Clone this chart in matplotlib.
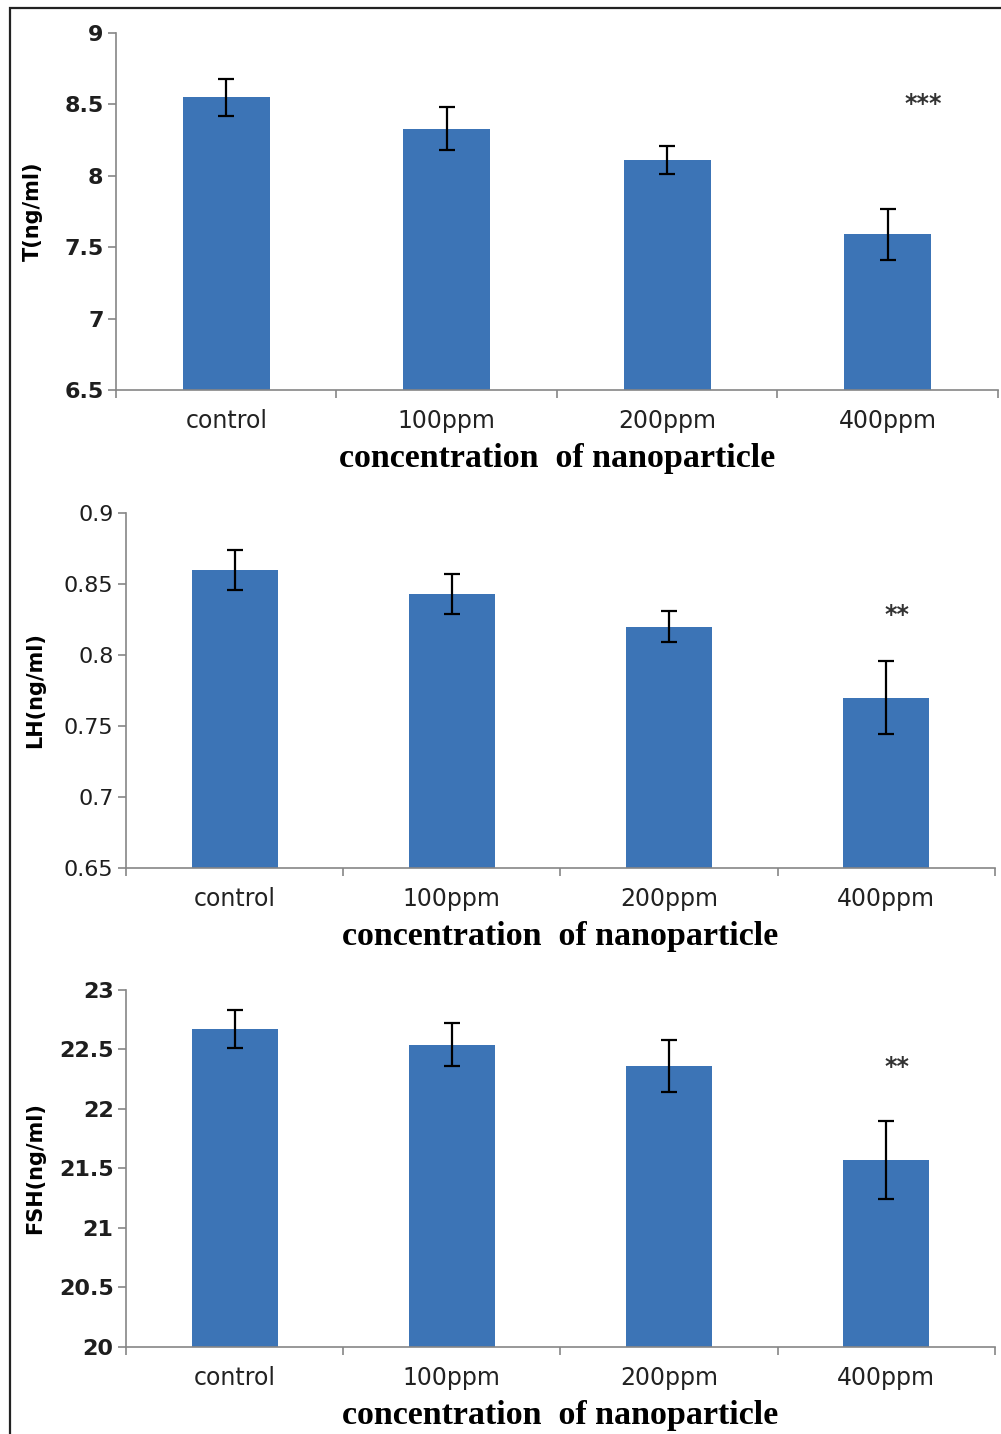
import matplotlib.pyplot as plt
from matplotlib.patches import Rectangle

# data
groups = ['control', '100ppm', '200ppm', '400ppm']

t_mean = [8.55, 8.33, 8.11, 7.59]
t_err = [0.13, 0.15, 0.10, 0.18]

lh_mean = [0.860, 0.843, 0.820, 0.770]
lh_err = [0.014, 0.014, 0.011, 0.026]

fsh_mean = [22.67, 22.54, 22.36, 21.57]
fsh_err = [0.16, 0.18, 0.22, 0.33]

ylabels = ['T(ng/ml)', 'LH(ng/ml)', 'FSH(ng/ml)']
ylims = [(6.5, 9), (0.65, 0.9), (20, 23)]
yticks = [[6.5, 7, 7.5, 8, 8.5, 9],
          [0.65, 0.7, 0.75, 0.8, 0.85, 0.9],
          [20, 20.5, 21, 21.5, 22, 22.5, 23]]
ytick_labels = [['6.5', '7', '7.5', '8', '8.5', '9'],
                ['0.65', '0.7', '0.75', '0.8', '0.85', '0.9'],
                ['20', '20.5', '21', '21.5', '22', '22.5', '23']]
stars = ['***', '**', '**']
star_pos = [(3.16, 8.50), (3.05, 0.828), (3.05, 22.35)]

bar_color = '#3C74B6'
axis_color = '#868686'

fig = plt.figure(figsize=(10.01, 14.34), dpi=100)

# outer frame (only top/left visible in the reference)
fig.patches.append(Rectangle((0.0100, -0.05), 1.2, 1.0444, transform=fig.transFigure,
                             fill=False, edgecolor='#222222', linewidth=1.6))

boxes = [[0.1159, 0.728, 0.881, 0.249],
         [0.1259, 0.3947, 0.868, 0.2476],
         [0.1259, 0.0607, 0.868, 0.249]]
ylabel_x = [-0.083, -0.093, -0.093]
tick_weight = ['bold', 'normal', 'bold']

means = [t_mean, lh_mean, fsh_mean]
errs = [t_err, lh_err, fsh_err]

for i in range(3):
    ax = fig.add_axes(boxes[i])
    x = range(len(groups))
    ax.bar(x, means[i], width=0.395, color=bar_color, zorder=2)
    ax.errorbar(x, means[i], yerr=errs[i], fmt='none', ecolor='black',
                elinewidth=1.6, capsize=6, capthick=1.6, zorder=3)
    ax.set_xlim(-0.5, 3.5)
    ax.set_ylim(*ylims[i])
    ax.set_yticks(yticks[i])
    ax.set_yticklabels(ytick_labels[i], fontsize=16, color='#1e1e1e',
                       fontfamily='DejaVu Sans', fontweight=tick_weight[i])
    ax.set_xticks(list(x))
    ax.set_xticklabels(groups, fontsize=17, color='#222222', fontfamily='DejaVu Sans')
    ax.set_xticks([-0.5, 0.5, 1.5, 2.5, 3.5], minor=True)
    ax.tick_params(axis='x', which='major', length=0, pad=14)
    ax.tick_params(axis='x', which='minor', length=6, color=axis_color, width=1.2)
    ax.tick_params(axis='y', length=6, color=axis_color, width=1.2, pad=3)
    for s in ['top', 'right']:
        ax.spines[s].set_visible(False)
    for s in ['left', 'bottom']:
        ax.spines[s].set_color(axis_color)
        ax.spines[s].set_linewidth(1.2)
    ax.set_ylabel(ylabels[i], fontsize=15, fontweight='bold')
    ax.yaxis.set_label_coords(ylabel_x[i], 0.5)
    ax.set_xlabel('concentration  of nanoparticle', fontsize=24.5, fontweight='bold',
                  fontfamily='Liberation Serif', labelpad=7)
    ax.text(star_pos[i][0], star_pos[i][1], stars[i], ha='center', va='center',
            fontsize=17, fontweight='bold', color='#333333')

fig.savefig('out.png', dpi=100)
